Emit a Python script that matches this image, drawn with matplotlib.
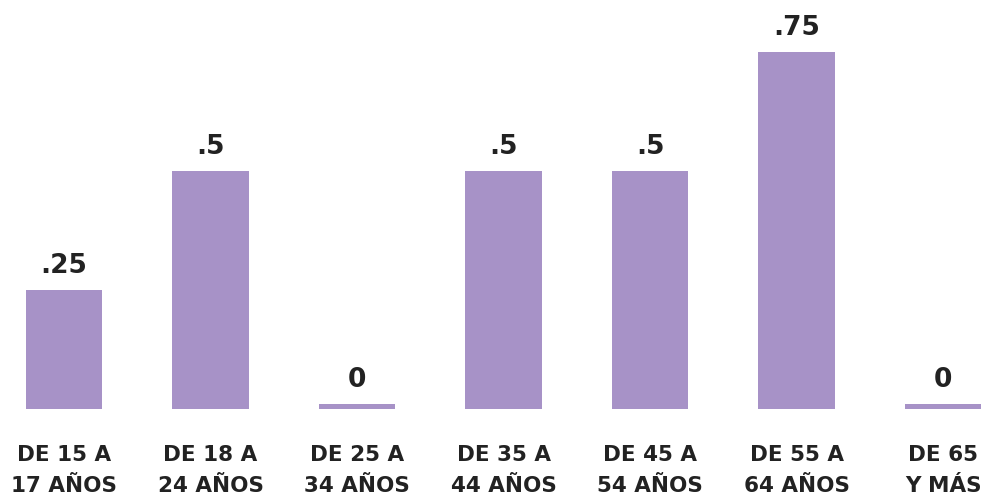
import numpy as np
import matplotlib.pyplot as plt

# age groups and values
categories = ['DE 15 A\n17 AÑOS', 'DE 18 A\n24 AÑOS', 'DE 25 A\n34 AÑOS', 'DE 35 A\n44 AÑOS',
              'DE 45 A\n54 AÑOS', 'DE 55 A\n64 AÑOS', 'DE 65\nY MÁS']
values = [0.25, 0.5, 0, 0.5, 0.5, 0.75, 0]
value_labels = ['.25', '.5', '0', '.5', '.5', '.75', '0']

bar_color = '#a792c7'
text_color = '#222222'

fig = plt.figure(figsize=(9.92, 4.98), dpi=100)
ax = fig.add_axes([0, 89 / 498, 1, 409 / 498])

x = np.arange(len(categories))
# zero bars still shown as a thin strip
heights = np.maximum(np.array(values), 0.0105)
bars = ax.bar(x, heights, width=0.52, color=bar_color)

for b, lab in zip(bars, value_labels):
    ax.annotate(lab, (b.get_x() + b.get_width() / 2, b.get_height()),
                xytext=(0, 12.5), textcoords='offset points',
                ha='center', va='baseline', fontsize=19, fontweight='bold',
                color=text_color, family='DejaVu Sans')

ax.set_xlim(-0.437, 6.334)
ax.set_ylim(0, 0.859)
ax.set_xticks(x)
ax.set_xticklabels(categories, fontsize=15.5, color=text_color, linespacing=1.65,
                   family='DejaVu Sans', fontweight='semibold')
ax.tick_params(axis='x', length=0, pad=26)
ax.set_yticks([])
for s in ax.spines.values():
    s.set_visible(False)

fig.savefig('out.png', dpi=100)
